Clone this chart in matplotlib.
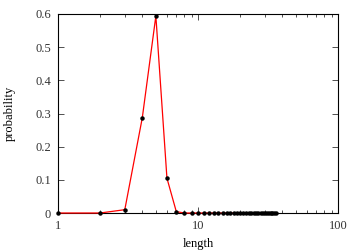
import matplotlib
matplotlib.use("Agg")
import matplotlib.pyplot as plt
from matplotlib.ticker import LogLocator, FixedLocator, FixedFormatter, NullFormatter

plt.rcParams['font.family'] = ['Liberation Serif', 'DejaVu Serif']

lengths = list(range(1, 37))
probs = [0.0, 0.0, 0.01, 0.287, 0.594, 0.105, 0.004] + [0.0] * 29

fig = plt.figure(figsize=(3.6, 2.52), dpi=100)
ax = fig.add_axes([58/360, 1 - 213/252, 280/360, 199/252])
ax.plot(lengths, probs, color='red', lw=0.9, marker='o', ms=2.2,
        mfc='black', mec='black', zorder=3, clip_on=False)
ax.set_xscale('log')
ax.set_xlim(1, 100)
ax.set_ylim(0, 0.6)
ax.xaxis.set_major_locator(FixedLocator([1, 10, 100]))
ax.xaxis.set_major_formatter(FixedFormatter(['1', '10', '100']))
ax.xaxis.set_minor_locator(LogLocator(base=10, subs=range(2, 10)))
ax.xaxis.set_minor_formatter(NullFormatter())
yt = [0, 0.1, 0.2, 0.3, 0.4, 0.5, 0.6]
ax.set_yticks(yt)
ax.set_yticklabels(['0', '0.1', '0.2', '0.3', '0.4', '0.5', '0.6'])
ax.tick_params(which='both', direction='in', top=True, right=True,
               labelsize=9, colors='#333333', width=0.6)
ax.tick_params(which='major', length=4, pad=5)
ax.tick_params(which='minor', length=2)
for s in ax.spines.values():
    s.set_linewidth(0.8)
    s.set_color('black')
ax.set_xlabel('length', fontsize=9, labelpad=4)
ax.set_ylabel('probability', fontsize=9, labelpad=14)
fig.savefig('out.png', dpi=100)
